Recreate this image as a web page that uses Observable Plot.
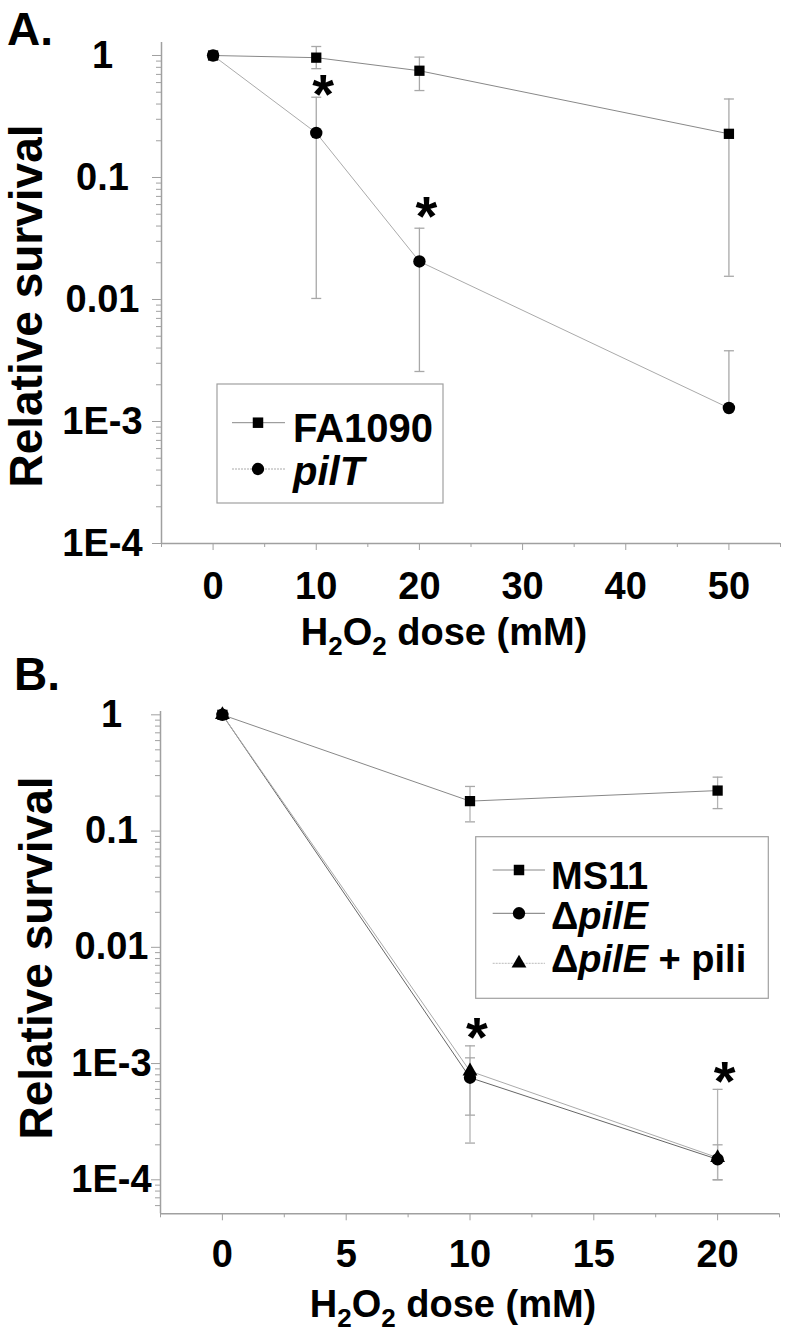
<!DOCTYPE html>
<html><head><meta charset="utf-8">
<script src="https://cdn.jsdelivr.net/npm/d3@7"></script>
<script src="https://cdn.jsdelivr.net/npm/@observablehq/plot@0.6"></script>
<style>
html,body{margin:0;padding:0;background:#fff;}
#root{width:786px;height:1338px;overflow:hidden;background:#fff;}
#root svg{display:block;overflow:visible;}
</style></head><body><div id="root"></div>
<script>
// ---------- Panel A data ----------
const doseA = [0, 10, 20, 50];
const fa1090 = [1, 0.96, 0.75, 0.228];
const fa1090Lo = [1, 0.78, 0.516, 0.0155];
const fa1090Hi = [1, 1.185, 0.97, 0.44];
const pilT = [1, 0.232, 0.0205, 0.00129];
const pilTLo = [1, 0.0102, 0.00257, 0.00129];
const pilTHi = [1, 0.455, 0.0384, 0.0038];
const starDoseA = [10, 20];
const starValA = [0.537, 0.0537];
const yTickValsA = [1, 0.1, 0.01, 0.001, 0.0001];
const yTickLabelsA = ["1", "0.1", "0.01", "1E-3", "1E-4"];
const xTickValsA = [0, 10, 20, 30, 40, 50];
const xMinorA = [-5, 5, 15, 25, 35, 45, 55];
const seriesA = ["FA1090", "pilT"];

// ---------- Panel B data ----------
const doseB = [0, 10, 20];
const ms11 = [1, 0.181, 0.223];
const ms11Lo = [1, 0.120, 0.156];
const ms11Hi = [1, 0.242, 0.291];
const pilE = [1, 7.56e-4, 1.5e-4];
const pilELo = [1, 3.6e-4, 1.0e-4];
const pilEHi = [1, 1.12e-3, 2.0e-4];
const pili = [1, 8.6e-4, 1.55e-4];
const piliLo = [1, 2.07e-4, 1.0e-4];
const piliHi = [1, 1.42e-3, 6.0e-4];
const starDoseB = [10, 20];
const starValB = [0.0020, 8.45e-4];
const yTickValsB = [1, 0.1, 0.01, 0.001, 0.0001];
const yTickLabelsB = ["1", "0.1", "0.01", "1E-3", "1E-4"];
const xTickValsB = [0, 5, 10, 15, 20];
const xMinorB = [-2.5, 2.5, 7.5, 12.5, 17.5, 22.5];
const seriesB = ["MS11", "ΔpilE", "ΔpilE + pili"];

const FONT = "'Liberation Sans', Arial, Helvetica, sans-serif";
const AXIS = "#a0a0a0";

function rows(series, dose, v, lo, hi) {
  return dose.map((d, i) => ({series, dose: d, v: v[i], lo: lo[i], hi: hi[i]}));
}
function minorTicks(lo, hi) {
  const out = [];
  for (let e = -6; e <= 1; e++) for (let m = 2; m <= 9; m++) {
    const v = m * Math.pow(10, e);
    if (v > lo && v < hi) out.push(v);
  }
  return out;
}
const capSymbol = {draw(ctx, size) { const r = Math.sqrt(size / Math.PI); ctx.moveTo(-r, 0); ctx.lineTo(r, 0); }};

function caps(table) {
  const out = [];
  for (const d of table) {
    if (d.hi !== d.v) out.push({dose: d.dose, y: d.hi, series: d.series});
    if (d.lo !== d.v) out.push({dose: d.dose, y: d.lo, series: d.series});
  }
  return out;
}

function axesMarks(o) {
  const lab = new Map(o.yVals.map((v, i) => [v, o.yLabels[i]]));
  return [
    Plot.ruleX([o.xDomain[0]], {stroke: AXIS, strokeWidth: 1.5}),
    Plot.ruleY([o.yDomain[0]], {stroke: AXIS, strokeWidth: 1.5}),
    Plot.axisY(minorTicks(o.yDomain[0], o.yDomain[1]), {tickSize: 5, tickFormat: () => "", stroke: AXIS, label: null}),
    Plot.axisY(o.yVals, {tickSize: 9, tickPadding: o.yPad, textAnchor: "middle", tickFormat: d => lab.get(d),
      stroke: AXIS, fill: "black", fontSize: 38, fontWeight: "bold", label: null}),
    Plot.axisX(o.xMinor, {tickSize: 4, tickFormat: () => "", stroke: AXIS, label: null}),
    Plot.axisX(o.xVals, {tickSize: 7, tickPadding: o.xPad, stroke: AXIS, fill: "black", fontSize: 38, fontWeight: "bold", label: null})
  ];
}

function addText(svg, o) {
  const s = d3.select(svg);
  s.append("text").attr("x", o.letter[0]).attr("y", o.letter[1]).attr("text-anchor", "start")
    .attr("font-size", 46).attr("font-weight", "bold").attr("fill", "black").text(o.letterText);
  s.append("text").attr("transform", `translate(${o.ylab[0]},${o.ylab[1]}) rotate(-90)`).attr("text-anchor", "middle")
    .attr("font-size", 46).attr("font-weight", "bold").attr("fill", "black").text("Relative survival");
  const t = s.append("text").attr("x", o.xlab[0]).attr("y", o.xlab[1]).attr("text-anchor", "middle")
    .attr("font-size", 38).attr("font-weight", "bold").attr("fill", "black");
  t.append("tspan").text("H");
  t.append("tspan").attr("font-size", 26).attr("dy", 10).text("2");
  t.append("tspan").attr("dy", -10).text("O");
  t.append("tspan").attr("font-size", 26).attr("dy", 10).text("2");
  t.append("tspan").attr("dy", -10).text(" dose (mM)");
}

function addLegend(svg, o) {
  const g = d3.select(svg).append("g").attr("text-anchor", "start");
  g.append("rect").attr("x", o.box[0]).attr("y", o.box[1]).attr("width", o.box[2]).attr("height", o.box[3])
    .attr("fill", "white").attr("stroke", AXIS).attr("stroke-width", 1.2);
  o.items.forEach(it => {
    g.append("line").attr("x1", o.line[0]).attr("x2", o.line[1]).attr("y1", it.y).attr("y2", it.y)
      .attr("stroke", it.lineColor).attr("stroke-width", 1).attr("stroke-dasharray", it.dash || null);
    g.append("path").attr("transform", `translate(${o.marker},${it.y})`)
      .attr("d", d3.symbol(it.symbol, it.size)()).attr("fill", "black");
    const t = g.append("text").attr("x", o.textX).attr("y", it.base).attr("text-anchor", "start")
      .attr("font-size", o.fontSize).attr("font-weight", "bold").attr("fill", "black");
    it.parts.forEach(p => t.append("tspan").attr("font-style", p[1] ? "italic" : "normal").text(p[0]));
  });
}

const root = document.getElementById("root");

// ---------- Panel A ----------
const tableA = [
  ...rows(seriesA[0], doseA, fa1090, fa1090Lo, fa1090Hi),
  ...rows(seriesA[1], doseA, pilT, pilTLo, pilTHi)
];
const starsA = starDoseA.map((d, i) => ({dose: d, v: starValA[i]}));
const optsA = {xDomain: [-5, 55], yDomain: [1e-4, 1.278], yVals: yTickValsA, yLabels: yTickLabelsA, yPad: 50,
  xVals: xTickValsA, xMinor: xMinorA, xPad: 22};
const A = Plot.plot({
  width: 786, height: 660, marginLeft: 161, marginRight: 6, marginTop: 42, marginBottom: 117,
  style: {fontFamily: FONT, background: "transparent", overflow: "visible"},
  x: {domain: optsA.xDomain},
  y: {type: "log", domain: optsA.yDomain},
  marks: [
    ...axesMarks(optsA),
    Plot.ruleX(tableA.filter(d => d.lo !== d.hi), {x: "dose", y1: "lo", y2: "hi", stroke: "#a8a8a8", strokeWidth: 1.3}),
    Plot.dot(caps(tableA), {x: "dose", y: "y", symbol: capSymbol, r: 5, stroke: "#a8a8a8", strokeWidth: 1.3, fill: "none"}),
    Plot.line(tableA.filter(d => d.series === seriesA[0]), {x: "dose", y: "v", stroke: "#888", strokeWidth: 1}),
    Plot.line(tableA.filter(d => d.series === seriesA[1]), {x: "dose", y: "v", stroke: "#aaa", strokeWidth: 1}),
    Plot.dot(tableA.filter(d => d.series === seriesA[0]), {x: "dose", y: "v", symbol: "square", r: 5.8, fill: "black"}),
    Plot.dot(tableA.filter(d => d.series === seriesA[1]), {x: "dose", y: "v", symbol: "circle", r: 6.2, fill: "black"}),
    Plot.text(starsA, {x: "dose", y: "v", text: () => "*", fontSize: 56, fontWeight: "bold", dx: 7, dy: 7, fill: "black"})
  ]
});
root.appendChild(A);
addText(A, {letter: [7, 45], letterText: "A.", ylab: [42, 306], xlab: [444, 645]});
addLegend(A, {box: [217, 384, 226, 119], line: [232, 285], marker: 258, textX: 293, fontSize: 40,
  items: [
    {y: 422.7, base: 441.7, symbol: d3.symbolSquare, size: 110, lineColor: "#888", parts: [["FA1090", false]]},
    {y: 469, base: 485, symbol: d3.symbolCircle, size: 120, lineColor: "#aaa", dash: "2,1", parts: [["pilT", true]]}
  ]});

// ---------- Panel B ----------
const tableB = [
  ...rows(seriesB[0], doseB, ms11, ms11Lo, ms11Hi),
  ...rows(seriesB[1], doseB, pilE, pilELo, pilEHi),
  ...rows(seriesB[2], doseB, pili, piliLo, piliHi)
];
const starsB = starDoseB.map((d, i) => ({dose: d, v: starValB[i]}));
const optsB = {xDomain: [-2.5, 22.5], yDomain: [5.1e-5, 1.068], yVals: yTickValsB, yLabels: yTickLabelsB, yPad: 40,
  xVals: xTickValsB, xMinor: xMinorB, xPad: 19};
const B = Plot.plot({
  width: 786, height: 678, marginLeft: 160, marginRight: 7, marginTop: 51, marginBottom: 124.7,
  style: {fontFamily: FONT, background: "transparent", overflow: "visible"},
  x: {domain: optsB.xDomain},
  y: {type: "log", domain: optsB.yDomain},
  marks: [
    ...axesMarks(optsB),
    Plot.ruleX(tableB.filter(d => d.lo !== d.hi), {x: "dose", y1: "lo", y2: "hi", stroke: "#b4b4b4", strokeWidth: 1.3}),
    Plot.dot(caps(tableB), {x: "dose", y: "y", symbol: capSymbol, r: 5, stroke: "#a8a8a8", strokeWidth: 1.3, fill: "none"}),
    Plot.line(tableB.filter(d => d.series === seriesB[0]), {x: "dose", y: "v", stroke: "#888", strokeWidth: 1}),
    Plot.line(tableB.filter(d => d.series === seriesB[1]), {x: "dose", y: "v", stroke: "#666", strokeWidth: 1}),
    Plot.line(tableB.filter(d => d.series === seriesB[2]), {x: "dose", y: "v", stroke: "#aaa", strokeWidth: 1}),
    Plot.dot(tableB.filter(d => d.series === seriesB[0]), {x: "dose", y: "v", symbol: "square", r: 5.8, fill: "black"}),
    Plot.dot(tableB.filter(d => d.series === seriesB[2]), {x: "dose", y: "v", symbol: "triangle", r: 5.5, fill: "black"}),
    Plot.dot(tableB.filter(d => d.series === seriesB[1]), {x: "dose", y: "v", symbol: "circle", r: 6.2, fill: "black"}),
    Plot.text(starsB, {x: "dose", y: "v", text: () => "*", fontSize: 56, fontWeight: "bold", dx: 7, dy: 10, fill: "black"})
  ]
});
root.appendChild(B);
addText(B, {letter: [14, 30], letterText: "B.", ylab: [52, 298], xlab: [453, 656.7]});
addLegend(B, {box: [475.7, 176.7, 292.6, 161.6], line: [492.7, 545], marker: 519, textX: 551, fontSize: 38,
  items: [
    {y: 210, base: 229.3, symbol: d3.symbolSquare, size: 110, lineColor: "#888", parts: [["MS11", false]]},
    {y: 253.3, base: 269.3, symbol: d3.symbolCircle, size: 120, lineColor: "#777", parts: [["Δ", false], ["pilE", true]]},
    {y: 303.3, base: 311.7, symbol: d3.symbolTriangle, size: 95, lineColor: "#bbb", dash: "2,1", parts: [["Δ", false], ["pilE", true], [" + pili", false]]}
  ]});
</script></body></html>
